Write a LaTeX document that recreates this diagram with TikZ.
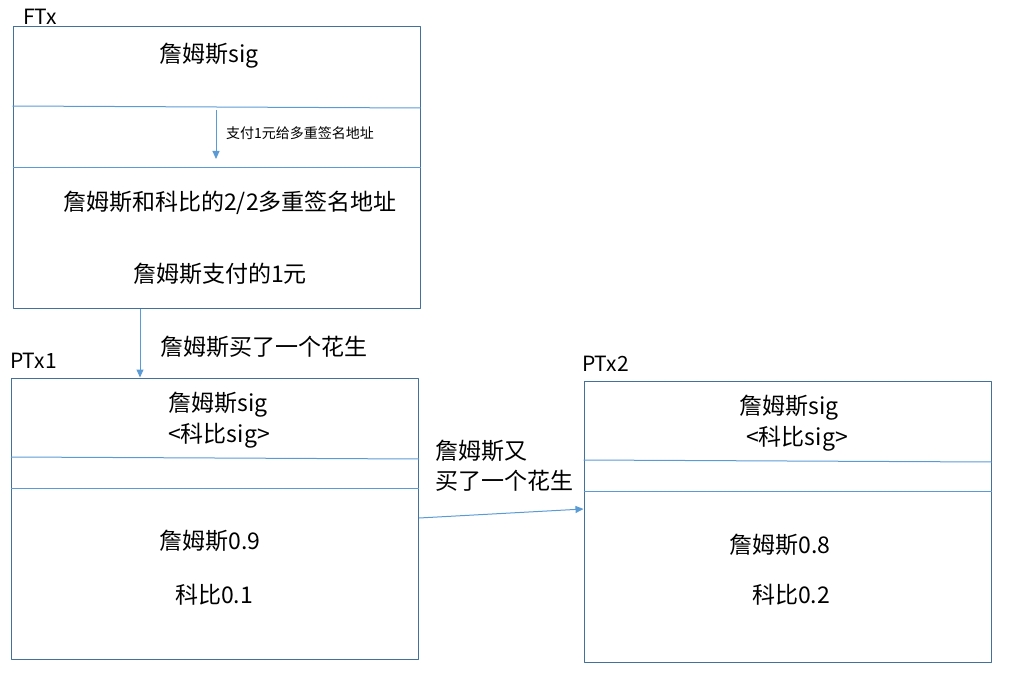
\documentclass[tikz,border=0pt]{standalone}
\usepackage{fontspec}
\setmainfont{Noto Sans CJK SC}
\usetikzlibrary{arrows.meta}
\definecolor{boxline}{RGB}{65,113,156}
\definecolor{sepline}{RGB}{91,155,213}
\tikzset{
 txbox/.style={draw=boxline, line width=1pt, minimum width=407pt, minimum height=281pt, inner sep=0pt},
 big/.style={font=\fontsize{23}{29}\selectfont, inner sep=0pt},
 small/.style={font=\fontsize{14}{17}\selectfont, inner sep=0pt, anchor=west},
 lbl/.style={font=\fontsize{21}{25}\selectfont, inner sep=0pt, anchor=base west},
 sep/.style={draw=sepline, line width=1pt},
 flow/.style={draw=sepline, line width=1pt, -{Triangle[length=8pt,width=7pt]}}
}
\begin{document}
\begin{tikzpicture}[x=1pt, y=-1pt, line join=round]
 \useasboundingbox (0,0) rectangle (1013,682);
 % the three transactions
 \node[txbox] (ftx) at (216.5,167.5) {};
 \node[txbox] (ptx1) at (215,518.5) {};
 \node[txbox] (ptx2) at (787.5,521.5) {};
 \node[lbl] (ftxname) at (23,25) {FTx};
 \node[lbl] (ptx1name) at (10,368) {PTx1};
 \node[lbl] (ptx2name) at (582,371) {PTx2};
 % separators
 \draw[sep] (ftx.west |- 0,106) -- (ftx.east |- 0,108);
 \draw[sep] (ftx.west |- 0,168) -- (ftx.east |- 0,168);
 \foreach \b/\y in {ptx1/457, ptx2/460}{
 \draw[sep] (\b.west |- 0,\y) -- (\b.east |- 0,\y+2);
 \draw[sep] (\b.west |- 0,\y+31) -- (\b.east |- 0,\y+31);
 }
 % FTx
 \node[big] (ftxsig) at (209,56) {詹姆斯sig};
 \coordinate (paytop) at (216,110);
 \coordinate (paybot) at (216,159);
 \draw[flow] (paytop) -- (paybot);
 \node[small] (paytext) at (226,133) {支付1元给多重签名地址};
 \node[big] (multisig) at (230,203) {詹姆斯和科比的2/2多重签名地址};
 \node[big] (ftxout) at (220,274) {詹姆斯支付的1元};
 % PTx1
 \node[big] (p1sig) at (218,405) {詹姆斯sig};
 \node[big] (p1sigb) at (219,436) {<科比sig>};
 \node[big] (p1j) at (210,541) {詹姆斯0.9};
 \node[big] (p1k) at (214,595) {科比0.1};
 % PTx2
 \node[big] (p2sig) at (789,408) {詹姆斯sig};
 \node[big] (p2sigb) at (797,439) {<科比sig>};
 \node[big] (p2j) at (780,545) {詹姆斯0.8};
 \node[big] (p2k) at (791,595) {科比0.2};
 % flows between transactions
 \draw[flow] (ftx.south -| 140,0) -- (ptx1.north -| 140,0);
 \node[big, anchor=west] (buy1) at (160,347) {詹姆斯买了一个花生};
 \draw[flow] (ptx1.east |- 0,518) -- (ptx2.west |- 0,509);
 \node[big, anchor=west, align=left, font=\fontsize{23}{30}\selectfont] (buy2) at (435,466) {詹姆斯又\\买了一个花生};
\end{tikzpicture}
\end{document}
